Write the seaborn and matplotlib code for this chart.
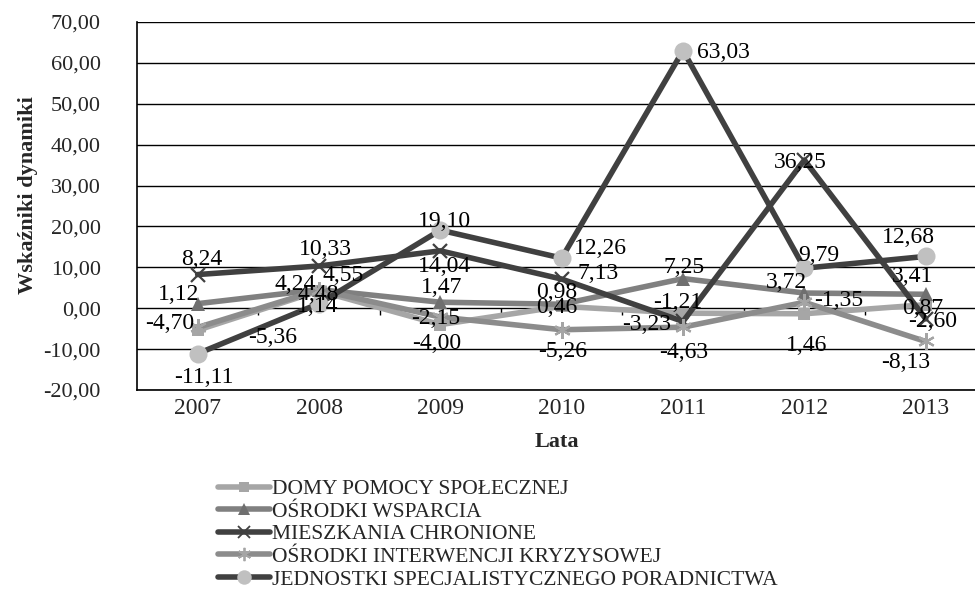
import pandas as pd
import seaborn as sns
import matplotlib.pyplot as plt
from matplotlib.lines import Line2D
from matplotlib.ticker import NullFormatter

# Data
years = [2007, 2008, 2009, 2010, 2011, 2012, 2013]
domy = [-5.36, 4.24, -4.00, 0.46, -1.21, -1.35, 0.87]
wsparcia = [1.12, 4.55, 1.47, 0.98, 7.25, 3.72, 3.41]
mieszkania = [8.24, 10.33, 14.04, 7.13, -3.23, 36.25, -2.60]
interwencji = [-4.70, 4.48, -2.15, -5.26, -4.63, 1.46, -8.13]
jednostki = [-11.11, 1.14, 19.10, 12.26, 63.03, 9.79, 12.68]

names = ["DOMY POMOCY SPOŁECZNEJ", "OŚRODKI WSPARCIA", "MIESZKANIA CHRONIONE",
         "OŚRODKI INTERWENCJI KRYZYSOWEJ", "JEDNOSTKI SPECJALISTYCZNEGO PORADNICTWA"]
values = [domy, wsparcia, mieszkania, interwencji, jednostki]

# line colour, marker, marker face, marker edge, marker size
styles = [
    ("#a6a6a6", "s", "#a6a6a6", "#a6a6a6", 9),
    ("#808080", "^", "#6f6f6f", "#6f6f6f", 10),
    ("#404040", "x", "#404040", "#404040", 10),
    ("#8c8c8c", (6, 2, 0), "#a5a5a5", "#a5a5a5", 12),
    ("#404040", "o", "#c0c0c0", "#c0c0c0", 13),
]

# label offsets in pixels (dx right, dy down) from each marker
offsets = [
    [(75, 7), (-24, -6), (-4, 19), (-5, 1), (-5, -11), (34, -13), (-3, 4)],
    [(-19, -9), (24, -14), (1, -15), (-5, -12), (1, -11), (-18, -11), (-13, -18)],
    [(4, -15), (6, -16), (4, 16), (36, -6), (-36, 3), (-4, 2), (7, 3)],
    [(-28, -4), (-1, 5), (-5, 1), (1, 22), (1, 25), (2, 43), (-20, 21)],
    [(6, 24), (-1, 3), (4, -9), (39, -10), (40, 2), (14, -13), (-17, -19)],
]

sns.set_style("white")
plt.rcParams['font.family'] = ['Liberation Serif', 'DejaVu Serif']

fig = plt.figure(figsize=(9.75, 5.92), dpi=100)
ax = fig.add_axes([0.1405, 0.3412, 0.8712, 0.6216])


def fmt(v):
    return f"{v:.2f}".replace(".", ",")


for k, (name, vals) in enumerate(zip(names, values)):
    lc, mk, mf, me, ms = styles[k]
    df = pd.DataFrame({"rok": years, "wartosc": vals})
    sns.lineplot(data=df, x="rok", y="wartosc", ax=ax, color=lc, lw=4,
                 marker=mk, markersize=ms, markerfacecolor=mf,
                 markeredgecolor=me, markeredgewidth=1.6 if mk in ("x", (6, 2, 0)) else 0,
                 legend=False, zorder=3 + k)

for k, vals in enumerate(values):
    for i, (yr, v) in enumerate(zip(years, vals)):
        dx, dy = offsets[k][i]
        ax.annotate(fmt(v), (yr, v), xytext=(dx, -dy), textcoords="offset pixels",
                    ha="center", va="center", fontsize=17, color="black", zorder=10)

ax.set_xlim(2006.5, 2013.5)
ax.set_ylim(-20, 70)
ax.set_yticks(range(-20, 71, 10))
ax.set_yticklabels([fmt(t) for t in range(-20, 71, 10)], fontsize=16)
ax.set_xticks(years)
ax.set_xticklabels([str(y) for y in years], fontsize=17)
ax.tick_params(axis="both", length=0)
ax.tick_params(axis="y", pad=26)
ax.tick_params(axis="x", pad=6)
ax.grid(axis="y", color="black", lw=1)
ax.grid(axis="x", visible=False)
for side in ["top", "right"]:
    ax.spines[side].set_visible(False)
ax.spines["left"].set_color("black")
ax.spines["left"].set_linewidth(1.2)
ax.spines["bottom"].set_color("black")
ax.spines["bottom"].set_linewidth(1.2)

# small category ticks on the zero line
sec = ax.secondary_xaxis(20 / 90)
sec.set_xticks([y + 0.5 for y in years[:-1]])
sec.xaxis.set_major_formatter(NullFormatter())
sec.tick_params(direction="out", length=5, width=1, color="black")
sec.spines["bottom"].set_visible(False)
sec.spines["top"].set_visible(False)

ax.set_xlabel("Lata", fontsize=16, fontweight="bold")
ax.set_ylabel("Wskaźniki dynamiki", fontsize=16, fontweight="bold")
ax.xaxis.set_label_coords(0.494, -0.115)
ax.yaxis.set_label_coords(-0.117, 0.53)

handles = []
for k, name in enumerate(names):
    lc, mk, mf, me, ms = styles[k]
    handles.append(Line2D([], [], color=lc, lw=4, marker=mk, markersize=ms * 0.8,
                          markerfacecolor=mf, markeredgecolor=me,
                          markeredgewidth=1.3 if mk in ("x", (6, 2, 0)) else 0))
fig.legend(handles=handles, labels=names, loc="upper left",
           bbox_to_anchor=(218 / 975, 1 - 479 / 592), frameon=False,
           fontsize=15.5, handlelength=2.4, handletextpad=0.1, labelspacing=0.12,
           borderpad=0, borderaxespad=0)

fig.savefig("out.png", dpi=100)
